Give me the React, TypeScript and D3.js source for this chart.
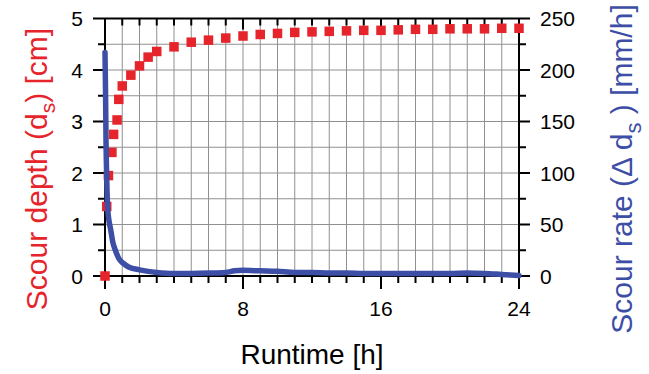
import React from "react";
import * as d3 from "d3";

const depthTimes = [0, 0.1, 0.2, 0.4, 0.5, 0.7, 0.8, 1.0, 1.5, 2, 2.5, 3, 4, 5, 6, 7, 8, 9, 10, 11, 12, 13, 14, 15, 16, 17, 18, 19, 20, 21, 22, 23, 24];
const depthValues = [0, 1.35, 1.95, 2.4, 2.75, 3.03, 3.43, 3.69, 3.9, 4.08, 4.25, 4.36, 4.45, 4.54, 4.58, 4.62, 4.66, 4.69, 4.71, 4.73, 4.74, 4.75, 4.76, 4.77, 4.77, 4.78, 4.79, 4.79, 4.8, 4.8, 4.8, 4.81, 4.81];

const rateTimes = [0, 0.03, 0.06, 0.1, 0.15, 0.22, 0.33, 0.45, 0.6, 0.8, 1.05, 1.4, 2, 2.5, 3, 4, 5, 6, 7, 7.5, 8, 9, 10, 11, 12, 13, 14, 15, 16, 17, 18, 19, 20, 21, 22, 23, 24];
const rateValues = [217, 180, 130, 95, 67, 55, 45, 33, 25, 17, 12.5, 8.5, 6, 4.5, 3.5, 2.5, 2.5, 2.8, 3.5, 5, 5.5, 5, 4.5, 3.5, 3.5, 3, 3, 2.5, 2.5, 2.5, 2.5, 2.5, 2.5, 3, 2.5, 1.5, 0.5];

const xTickLabels = [0, 8, 16, 24];
const leftTickLabels = [0, 1, 2, 3, 4, 5];
const rightTickLabels = [0, 50, 100, 150, 200, 250];

const W = 649, H = 374;
const L = 105, R = 519, T = 18.5, B = 276;
const FONT = "'Liberation Sans', Arial, Helvetica, sans-serif";
const RED = "#e5242b";
const BLUE = "#3c4ea6";

export default function App() {
  const x = d3.scaleLinear().domain([0, 24]).range([L, R]);
  const yL = d3.scaleLinear().domain([0, 5]).range([B, T]);
  const yR = d3.scaleLinear().domain([0, 250]).range([B, T]);

  const hours = d3.range(0, 25, 1);
  const halfUnits = d3.range(0, 5.01, 0.5);
  const rightMinor = d3.range(0, 251, 25);

  const rateData = rateTimes.map((t, i) => [t, rateValues[i]] as [number, number]);
  const line = d3.line<[number, number]>().x(d => x(d[0])).y(d => yR(d[1])).curve(d3.curveMonotoneX);

  const sq = 9.5;

  return (
    <svg width={W} height={H} style={{ position: "absolute", left: 0, top: 0, background: "#fff" }}>
      {/* grid */}
      {hours.filter(h => h > 0 && h < 24).map(h => (
        <line key={"gv" + h} x1={x(h)} x2={x(h)} y1={T} y2={B} stroke="#909090" strokeWidth={1} />
      ))}
      {halfUnits.filter(v => v > 0 && v < 5).map(v => (
        <line key={"gh" + v} x1={L} x2={R} y1={yL(v)} y2={yL(v)} stroke="#909090" strokeWidth={1} />
      ))}

      {/* frame */}
      <line x1={L} x2={R} y1={T} y2={T} stroke="#000" strokeWidth={2} />
      <line x1={L} x2={R} y1={B} y2={B} stroke="#000" strokeWidth={2} />
      <line x1={L} x2={L} y1={T} y2={B} stroke="#000" strokeWidth={2} />
      <line x1={R} x2={R} y1={T} y2={B} stroke="#000" strokeWidth={2} />

      {/* x ticks bottom (outward) and top (inward) */}
      {hours.map(h => {
        const major = h % 8 === 0;
        return (
          <g key={"xt" + h}>
            <line x1={x(h)} x2={x(h)} y1={B} y2={B + (major ? 13 : 7)} stroke="#000" strokeWidth={2} />
            <line x1={x(h)} x2={x(h)} y1={T} y2={T + (major ? 11 : 7)} stroke="#000" strokeWidth={2} />
          </g>
        );
      })}
      {xTickLabels.map(v => (
        <text key={"xl" + v} x={x(v)} y={316} textAnchor="middle" fontFamily={FONT} fontSize={21} fill="#000">{v}</text>
      ))}

      {/* left ticks */}
      {halfUnits.map(v => {
        const major = Math.abs(v - Math.round(v)) < 1e-6;
        return <line key={"lt" + v} x1={L - (major ? 12 : 7)} x2={L} y1={yL(v)} y2={yL(v)} stroke="#000" strokeWidth={2} />;
      })}
      {leftTickLabels.map(v => (
        <text key={"ll" + v} x={83} y={yL(v)} dy="0.36em" textAnchor="end" fontFamily={FONT} fontSize={21} fill="#000">{v}</text>
      ))}

      {/* right ticks */}
      {rightMinor.map(v => {
        const major = v % 50 === 0;
        return <line key={"rt" + v} x1={R} x2={R + (major ? 11 : 7)} y1={yR(v)} y2={yR(v)} stroke="#000" strokeWidth={2} />;
      })}
      {rightTickLabels.map(v => (
        <text key={"rl" + v} x={540} y={yR(v)} dy="0.36em" textAnchor="start" fontFamily={FONT} fontSize={21} fill="#000">{v}</text>
      ))}

      {/* depth squares */}
      {depthTimes.map((t, i) => (
        <rect key={"sq" + i} x={x(t) - sq / 2} y={yL(depthValues[i]) - sq / 2} width={sq} height={sq} fill={RED} />
      ))}

      {/* rate line */}
      <path d={line(rateData) || ""} fill="none" stroke={BLUE} strokeWidth={5.5} strokeLinejoin="round" strokeLinecap="round" />

      {/* titles */}
      <text x={312} y={364} textAnchor="middle" fontFamily={FONT} fontSize={28} fill="#000">Runtime [h]</text>

      <text transform="translate(47,169) rotate(-90)" textAnchor="middle" fontFamily={FONT} fontSize={30} fill={RED}>
        Scour depth (d<tspan fontSize={21} dy={8}>s</tspan><tspan dy={-8}>) [cm]</tspan>
      </text>

      <text transform="translate(632,169) rotate(-90)" textAnchor="middle" fontFamily={FONT} fontSize={30} fill={BLUE}>
        Scour rate (Δ d<tspan fontSize={22} dy={9}>s</tspan><tspan dy={-9}> ) [mm/h]</tspan>
      </text>
    </svg>
  );
}
